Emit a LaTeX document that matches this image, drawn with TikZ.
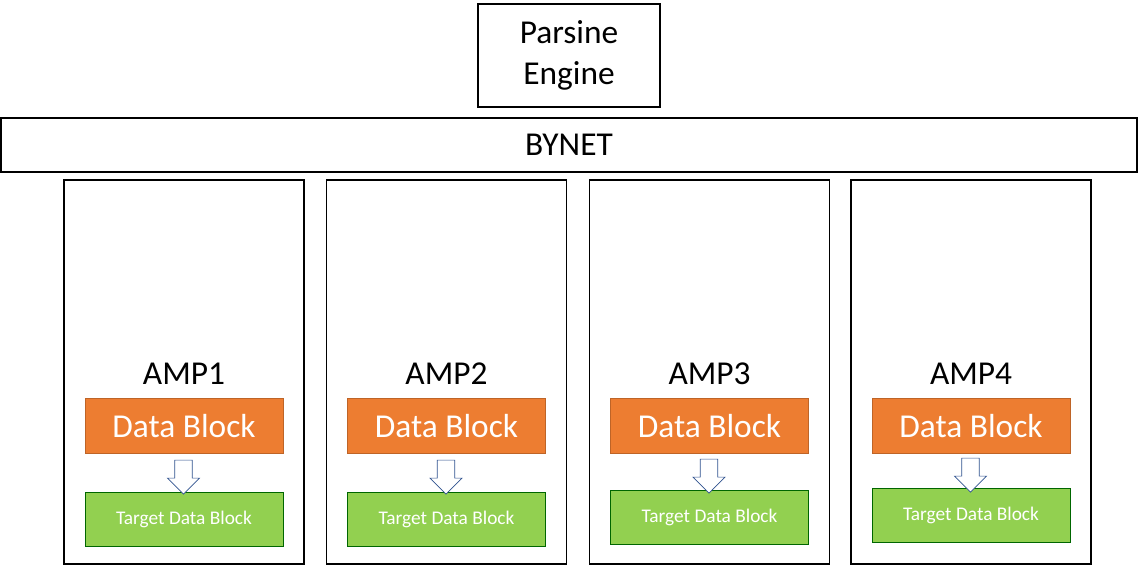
\documentclass[tikz,border=0pt]{standalone}
\usepackage{fontspec}
\setmainfont{Carlito}
\usetikzlibrary{shapes.arrows, positioning}
\definecolor{blockorange}{RGB}{237,125,49}
\definecolor{blockgreen}{RGB}{146,208,80}
\definecolor{arrowblue}{RGB}{47,82,143}
\tikzset{
    box/.style={draw, line width=0.8pt, inner sep=0pt},
    datablk/.style={fill=blockorange, draw=blockorange!80!black, text=white, minimum width=3.96cm, minimum height=1.1cm, font=\fontsize{19}{22}\selectfont, inner sep=0pt},
    targetblk/.style={fill=blockgreen, draw=black!60!green, text=white, minimum width=3.96cm, minimum height=1.08cm, font=\fontsize{11}{13}\selectfont, inner sep=0pt},
    downarrow/.style={single arrow, draw=arrowblue, fill=white, shape border rotate=270, minimum width=0.64cm, single arrow head extend=0.09cm, single arrow tip angle=90, minimum height=0.68cm, inner sep=0.1cm}
}
\begin{document}
\begin{tikzpicture}[x=0.02cm, y=-0.02cm]
    \useasboundingbox (0,0) rectangle (1138,566);
    \node[box, minimum width=3.64cm, minimum height=2.06cm, align=center, font=\fontsize{19}{23}\selectfont] (engine) at (569,55.5) {Parsine\\Engine};
    \node[box, minimum width=22.72cm, minimum height=1.08cm, font=\fontsize{19}{22}\selectfont] (bynet) at (569,145) {BYNET};
    \foreach \i/\cx/\gy in {1/184/519, 2/446.5/519, 3/709.5/517, 4/971/515}{
        \node[box, minimum width=4.8cm, minimum height=7.68cm] (amp\i) at (\cx,372) {};
        \node[font=\fontsize{19}{22}\selectfont] (label\i) at (\cx,374) {AMP\i};
        \node[datablk] (data\i) at (\cx,426) {Data Block};
        \node[targetblk] (target\i) at (\cx,\gy) {Target Data Block};
        \node[downarrow] (arrow\i) at (\cx-0.5,{(426+27.5+\gy-27)/2}) {};
    }
\end{tikzpicture}
\end{document}
